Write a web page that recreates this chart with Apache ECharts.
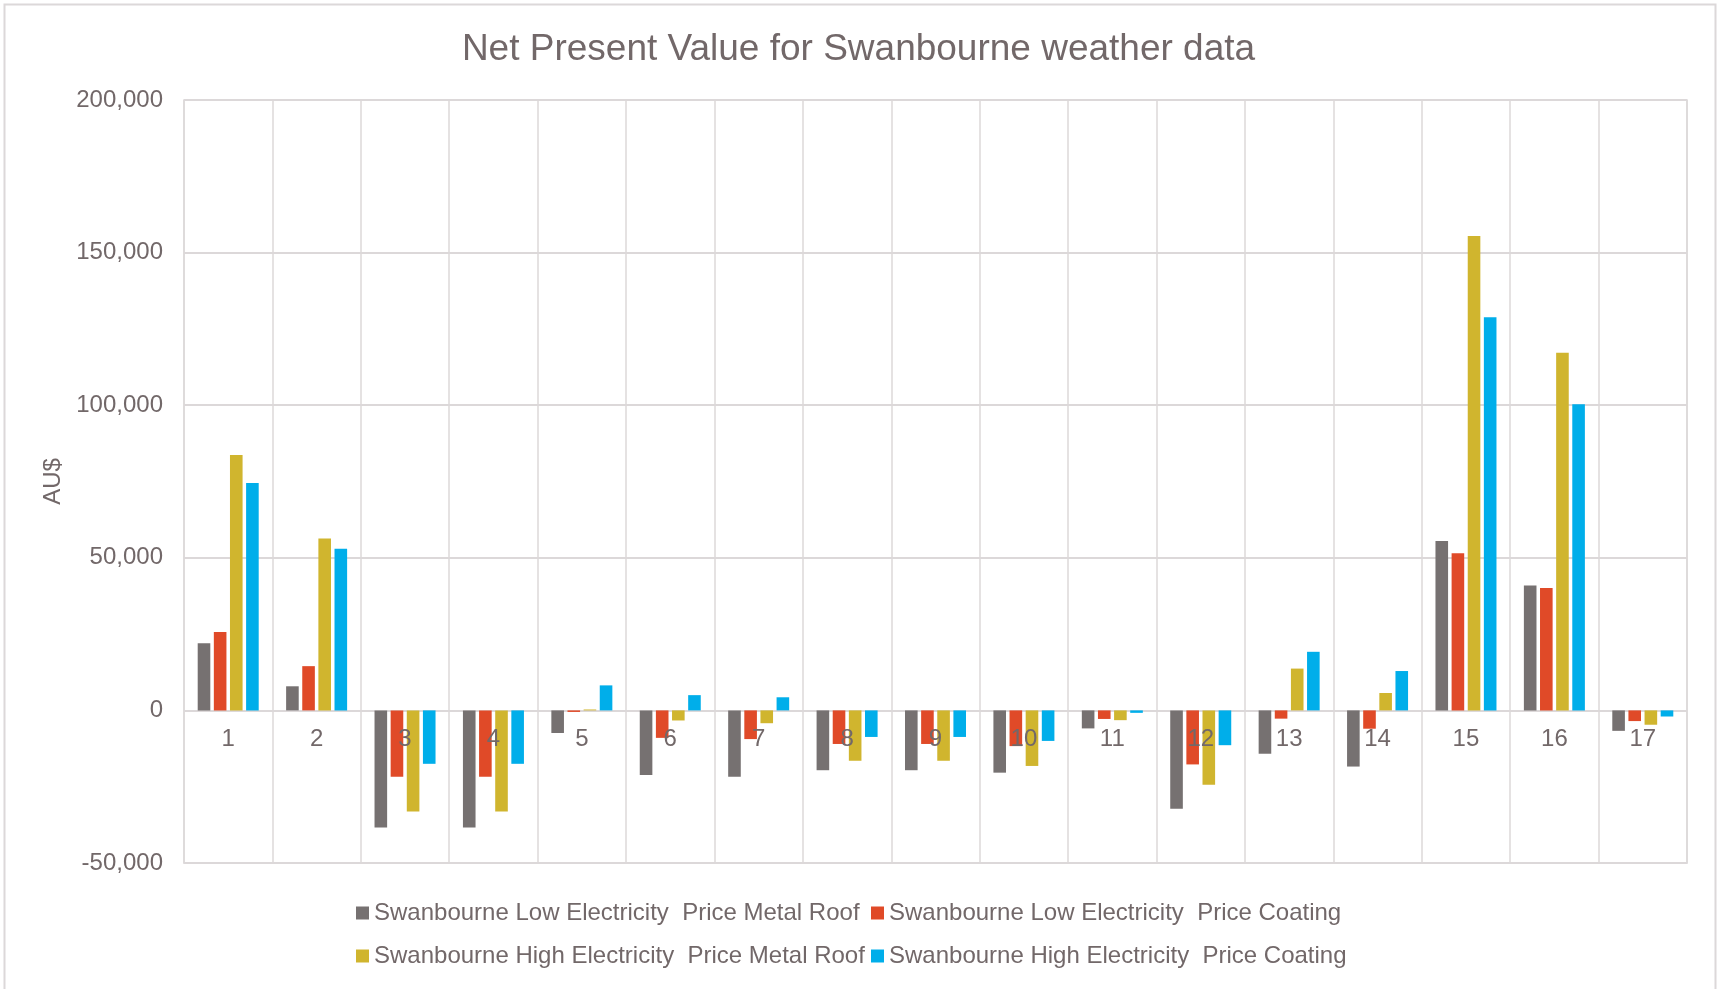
<!DOCTYPE html>
<html>
<head>
<meta charset="utf-8">
<style>
  html, body { margin: 0; padding: 0; background: #fff; }
  #main { width: 1717px; height: 989px; }
</style>
<script src="https://cdn.jsdelivr.net/npm/echarts@6/dist/echarts.min.js"></script>
</head>
<body>
<div id="main"></div>
<script>
// data
var categories = ['1', '2', '3', '4', '5', '6', '7', '8', '9', '10', '11', '12', '13', '14', '15', '16', '17']
var seriesNames = [
  'Swanbourne Low Electricity  Price Metal Roof',
  'Swanbourne Low Electricity  Price Coating',
  'Swanbourne High Electricity  Price Metal Roof',
  'Swanbourne High Electricity  Price Coating'
]
var lowMetalRoof = [22000, 7900, -38400, -38400, -7400, -21200, -21700, -19600, -19600, -20400, -5900, -32200, -14200, -18400, 55500, 40900, -6700]
var lowCoating = [25700, 14500, -21700, -21700, -500, -9000, -9400, -11000, -11000, -11700, -2800, -17700, -2700, -6000, 51500, 40100, -3500]
var highMetalRoof = [83700, 56300, -33100, -33100, 300, -3300, -4200, -16500, -16500, -18200, -3200, -24400, 13700, 5700, 155400, 117200, -4700]
var highCoating = [74500, 53000, -17500, -17500, 8200, 5000, 4300, -8700, -8700, -10000, -800, -11400, 19200, 12900, 128800, 100300, -2000]
var colors = ['#767171', '#e04a28', '#d0b52e', '#00aeea']

var font = 'Liberation Sans, Arial, sans-serif'
var textColor = '#726869'
var lineColor = '#dcd8d9'

var myChart = echarts.init(document.getElementById('main'))

function legendAt (name, left, top) {
  return {
    data: [name],
    left: left,
    top: top,
    padding: 0,
    itemWidth: 13,
    itemHeight: 13,
    icon: 'rect',
    selectedMode: false,
    textStyle: { color: textColor, fontSize: 24, fontFamily: font }
  }
}

var allData = [lowMetalRoof, lowCoating, highMetalRoof, highCoating]

myChart.setOption({
  animation: false,
  color: colors,
  title: {
    text: 'Net Present Value for Swanbourne weather data',
    left: 'center',
    top: 26,
    textStyle: { color: textColor, fontSize: 37, fontWeight: 'normal', fontFamily: font }
  },
  graphic: [{
    type: 'rect',
    shape: { x: 4.5, y: 4.5, width: 1711, height: 1000 },
    style: { fill: 'none', stroke: lineColor, lineWidth: 2 },
    silent: true
  }],
  legend: [
    legendAt(seriesNames[0], 356, 901),
    legendAt(seriesNames[1], 871, 901),
    legendAt(seriesNames[2], 356, 944),
    legendAt(seriesNames[3], 871, 944)
  ],
  grid: {
    left: 184,
    right: 30,
    top: 100,
    bottom: 126,
    show: true,
    borderColor: lineColor,
    borderWidth: 1.5
  },
  xAxis: {
    type: 'category',
    data: categories,
    z: 5, // labels sit on top of the bars
    axisLine: { onZero: false, lineStyle: { color: lineColor, width: 1.5 } },
    axisTick: { show: false },
    axisLabel: { color: textColor, fontSize: 24, fontFamily: font, margin: 17 },
    splitLine: { show: true, lineStyle: { color: lineColor, width: 1.5 } }
  },
  yAxis: {
    type: 'value',
    min: -50000,
    max: 200000,
    interval: 50000,
    name: 'AU$',
    nameLocation: 'middle',
    nameGap: 118,
    nameTextStyle: { color: textColor, fontSize: 24, fontFamily: font },
    axisLine: { show: false },
    axisTick: { show: false },
    axisLabel: {
      color: textColor,
      fontSize: 24,
      fontFamily: font,
      margin: 21,
      formatter: function (v) { return echarts.format.addCommas(v) }
    },
    splitLine: { lineStyle: { color: lineColor, width: 2 } }
  },
  series: allData.map(function (d, i) {
    return {
      name: seriesNames[i],
      type: 'bar',
      data: d,
      barGap: '28%',
      barCategoryGap: '31%'
    }
  })
})

// category labels sit just under the zero line, as in the original
var zeroY = myChart.convertToPixel({ yAxisIndex: 0 }, 0)
var bottomY = myChart.convertToPixel({ yAxisIndex: 0 }, -50000)
myChart.setOption({
  xAxis: { axisLabel: { margin: zeroY - bottomY + 17 } }
})
</script>
</body>
</html>
